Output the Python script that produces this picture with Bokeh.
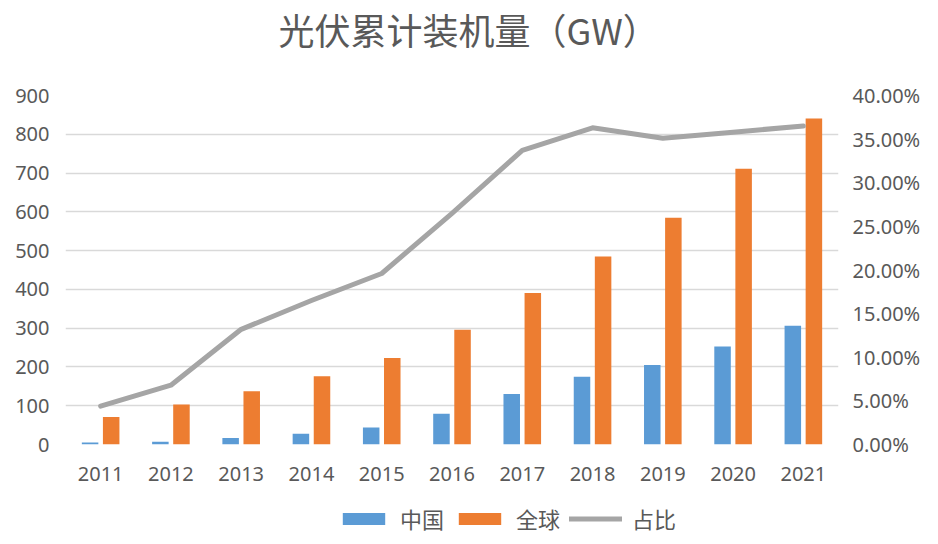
from bokeh.plotting import figure
from bokeh.models import (Range1d, LinearAxis, FactorRange, ColumnDataSource, FixedTicker,
                          NumeralTickFormatter, Legend, LegendItem, Title)
from bokeh.transform import dodge
from bokeh.layouts import column
from bokeh.embed import file_html
from bokeh.resources import INLINE

years = ["2011", "2012", "2013", "2014", "2015", "2016", "2017", "2018", "2019", "2020", "2021"]
china = [5, 7, 17, 28, 44, 79, 130, 175, 205, 253, 306]
world = [71, 103, 137, 176, 223, 296, 391, 485, 585, 711, 841]
share = [0.044, 0.068, 0.132, 0.165, 0.196, 0.265, 0.337, 0.363, 0.351, 0.358, 0.365]
left_ticks = [0, 100, 200, 300, 400, 500, 600, 700, 800, 900]
right_ticks = [0.0, 0.05, 0.10, 0.15, 0.20, 0.25, 0.30, 0.35, 0.40]

src = ColumnDataSource(dict(year=years, china=china, world=world, share=share))

TXT = "#595959"
NUM_FONT = "Noto Sans"
CJK = "Noto Sans CJK SC"
C_CN, C_W, C_L = "#5B9BD5", "#ED7D31", "#A5A5A5"

p = figure(x_range=FactorRange(factors=years), y_range=Range1d(0, 900),
           frame_width=773, frame_height=349, output_backend="svg", toolbar_location=None,
           min_border_left=65, min_border_right=84, min_border_top=94, min_border_bottom=54)
p.extra_y_ranges = {"pct": Range1d(0, 0.40)}

p.vbar(x=dodge("year", -0.15, range=p.x_range), top="china", width=0.235, source=src,
       fill_color=C_CN, line_color=None)
p.vbar(x=dodge("year", 0.15, range=p.x_range), top="world", width=0.235, source=src,
       fill_color=C_W, line_color=None)
p.line(x="year", y="share", source=src, y_range_name="pct", line_width=5,
       line_color=C_L, line_cap="round", line_join="round")

p.outline_line_color = None
p.xgrid.grid_line_color = None
p.ygrid.ticker = FixedTicker(ticks=left_ticks)
p.ygrid.grid_line_color = "#D9D9D9"
p.ygrid.grid_line_width = 1.5

p.yaxis.ticker = FixedTicker(ticks=left_ticks)
ax_r = LinearAxis(y_range_name="pct", ticker=FixedTicker(ticks=right_ticks),
                  formatter=NumeralTickFormatter(format="0.00%"))
p.add_layout(ax_r, "right")

for ax in [p.xaxis[0], p.yaxis[0], ax_r]:
    ax.axis_line_color = None
    ax.major_tick_line_color = None
    ax.minor_tick_line_color = None
    ax.major_tick_in = 0
    ax.major_tick_out = 0
    ax.minor_tick_in = 0
    ax.minor_tick_out = 0
    ax.major_label_text_font = NUM_FONT
    ax.major_label_text_font_size = "20px"
    ax.major_label_text_color = TXT
p.yaxis[0].major_label_standoff = 16
ax_r.major_label_standoff = 14
p.xaxis[0].major_label_standoff = 22

spacer = Title(text=" ", text_font_size="10px", standoff=28)
title = Title(text="光伏累计装机量（GW）", align="left", offset=213, text_font=CJK,
              text_font_size="36px", text_font_style="normal", text_color=TXT, standoff=0)
p.add_layout(spacer, "above")
p.add_layout(title, "above")

# legend strip below the chart (swatch renderers draw nothing themselves)
lg = figure(frame_width=773, height=36, x_range=Range1d(0, 1), y_range=Range1d(0, 1),
            x_axis_location=None, y_axis_location=None, toolbar_location=None,
            output_backend="svg", min_border_left=65, min_border_right=84,
            min_border_top=0, min_border_bottom=0)
lg.outline_line_color = None
lg.grid.visible = False
d_cn = lg.vbar(x=[0.5], top=[0], bottom=[0], width=0.01, fill_color=C_CN, line_color=None)
d_w = lg.vbar(x=[0.5], top=[0], bottom=[0], width=0.01, fill_color=C_W, line_color=None)
d_l = lg.line(x=[0.5], y=[0.5], line_width=5, line_color=C_L, line_cap="round")

legend = Legend(items=[LegendItem(label="中国", renderers=[d_cn]),
                       LegendItem(label="全球", renderers=[d_w]),
                       LegendItem(label="占比", renderers=[d_l])],
                orientation="horizontal", location=(272, 0),
                glyph_width=53, glyph_height=15, label_standoff=10, spacing=9,
                padding=0, margin=0, border_line_color=None, background_fill_alpha=0,
                label_text_font=CJK, label_text_font_size="22px", label_text_color=TXT,
                label_height=15)
lg.add_layout(legend, "center")

layout = column(p, lg, spacing=0)
open("out.html", "w").write(file_html(layout, INLINE))
